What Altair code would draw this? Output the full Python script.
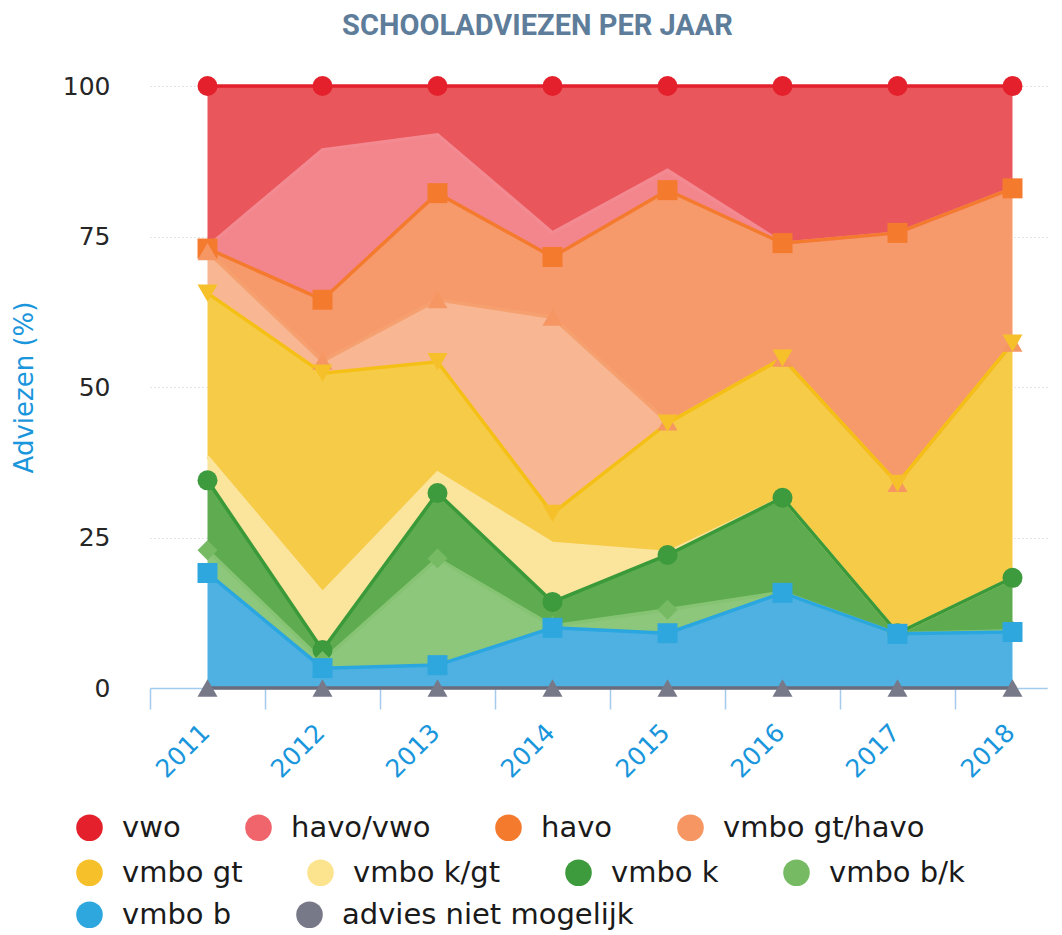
import altair as alt
import pandas as pd

years = [2011, 2012, 2013, 2014, 2015, 2016, 2017, 2018]
series = ["vwo", "havo/vwo", "havo", "vmbo gt/havo", "vmbo gt",
          "vmbo k/gt", "vmbo k", "vmbo b/k", "vmbo b", "advies niet mogelijk"]

# percentage per advice per year
vwo = [26.7, 10.6, 8.1, 24.4, 14.0, 26.1, 24.4, 17.0]
havo_vwo = [0.3, 24.9, 9.7, 4.0, 3.3, 0.0, 0.0, 0.0]
havo = [0.5, 10.2, 17.7, 10.0, 38.5, 19.1, 41.6, 25.7]
vmbo_gt_havo = [6.9, 2.0, 10.3, 32.6, 0.2, 0.0, 0.0, 0.0]
vmbo_gt = [27.2, 36.5, 18.5, 5.0, 21.5, 23.2, 24.9, 39.0]
vmbo_k_gt = [3.9, 9.5, 3.3, 9.7, 0.4, 0.0, 0.0, 0.0]
vmbo_k = [11.6, 1.8, 10.9, 4.0, 9.1, 15.7, 0.1, 8.8]
vmbo_b_k = [3.8, 1.2, 17.7, 0.3, 3.9, 0.1, 0.0, 0.2]
vmbo_b = [19.1, 3.3, 3.8, 10.0, 9.1, 15.8, 9.0, 9.3]
advies = [0.0, 0.0, 0.0, 0.0, 0.0, 0.0, 0.0, 0.0]

y_ticks = [0, 25, 50, 75, 100]
band_edges = [2010.5, 2011.5, 2012.5, 2013.5, 2014.5, 2015.5, 2016.5, 2017.5]

marker_colors = ["#e3202b", "#f0646c", "#f47a2e", "#f59663", "#f5c02a",
                 "#fce48e", "#3d9a3d", "#76bb64", "#2ea7df", "#777989"]
area_colors = ["#e9565c", "#f3868c", "#f69a6b", "#f8b692", "#f6cb48",
               "#fbe49c", "#5fab4f", "#8cc77b", "#4fb1e1", "#8a8c9a"]
line_colors = ["#e3202b", "#f38a91", "#f47a2e", "#f6a070", "#f5c015",
               "#fbe49c", "#3a9a3a", "#86c474", "#2aa6e0", "#6a6c7c"]
shapes = ["circle", "diamond", "square", "triangle-up", "triangle-down",
          "diamond", "circle", "diamond", "square", "triangle-up"]
no_marker = ["havo/vwo", "vmbo k/gt"]

# legend rows (as in the reference)
legend_rows = [series[0:4], series[4:8], series[8:10]]
legend_y = [727, 772, 814]

values = [vwo, havo_vwo, havo, vmbo_gt_havo, vmbo_gt,
          vmbo_k_gt, vmbo_k, vmbo_b_k, vmbo_b, advies]
rows = []
for i, (name, vals) in enumerate(zip(series, values)):
    for y, v in zip(years, vals):
        rows.append({"year": y, "series": name, "value": v,
                     "order": len(series) - 1 - i})
df = pd.DataFrame(rows)

rev_series = series[::-1]

x_scale = alt.Scale(domain=[2010.5, 2018.3], nice=False, zero=False)
y_scale = alt.Scale(domain=[0, 100], nice=False)

base = alt.Chart(df).transform_stack(
    stack="value", groupby=["year"], as_=["y0", "y1"],
    sort=[alt.SortField(field="order", order="ascending")]
)

x_axis = alt.Axis(
    values=band_edges, labelExpr="'' + (datum.value + 0.5)", labelOffset=55,
    grid=False, domainColor="#a4cbec", domainWidth=1.5,
    tickColor="#a4cbec", tickWidth=1.5, tickSize=21,
    labelAngle=315, labelAlign="right", labelBaseline="middle",
    labelPadding=19, labelFont="DejaVu Sans", labelFontSize=25,
    labelColor="#1a96dc", labelFlush=False, labelOverlap=False,
    title=None,
)
y_axis = alt.Axis(
    values=y_ticks, grid=True, gridDash=[1, 3], gridColor="#c8c8c8",
    domain=False, ticks=False, labelFont="DejaVu Sans", labelFontSize=25,
    labelColor="#262626", labelPadding=40, title="Adviezen (%)",
    titleFont="DejaVu Sans", titleFontSize=26, titleFontWeight="normal",
    titleColor="#1a96dc", titlePadding=25,
)

areas = base.mark_area(opacity=1).encode(
    x=alt.X("year:Q", scale=x_scale, axis=x_axis),
    y=alt.Y("y1:Q", scale=y_scale, axis=y_axis, stack=None),
    y2="y0:Q",
    fill=alt.Fill("series:N", scale=alt.Scale(domain=rev_series, range=area_colors[::-1]), legend=None),
    order=alt.Order("order:Q"),
)

lines = base.mark_line(strokeWidth=3.5).encode(
    x=alt.X("year:Q"),
    y=alt.Y("y1:Q", stack=None),
    stroke=alt.Stroke("series:N", scale=alt.Scale(domain=rev_series, range=line_colors[::-1]), legend=None),
    detail="series:N",
)

marker_layers = []
for row, ly in zip(legend_rows, legend_y):
    shown = [s for s in row if s not in no_marker]
    row_colors = [marker_colors[series.index(s)] for s in row]
    layer = base.transform_filter(
        alt.FieldOneOfPredicate(field="series", oneOf=shown)
    ).mark_point(filled=True, opacity=1, size=400).encode(
        x=alt.X("year:Q"),
        y=alt.Y("y1:Q", stack=None),
        color=alt.Color(
            "series:N",
            scale=alt.Scale(domain=row, range=row_colors),
            legend=alt.Legend(
                title=None, orient="none", legendX=-75, legendY=ly,
                direction="horizontal", columns=len(row),
                symbolType="circle", symbolSize=707, symbolStrokeWidth=0,
                labelFont="DejaVu Sans", labelFontSize=29, labelColor="#1a1a1a",
                labelOffset=18, columnPadding=63, padding=0, labelLimit=500,
            ),
        ),
        shape=alt.Shape("series:N", scale=alt.Scale(domain=rev_series, range=shapes[::-1]), legend=None),
    )
    marker_layers.append(layer)

chart = alt.layer(areas, lines, *marker_layers).resolve_scale(
    color="independent"
).resolve_legend(color="independent").properties(
    width=897, height=602,
    autosize=alt.AutoSizeParams(type="none"),
    padding={"left": 142, "top": 78, "right": 7, "bottom": 247},
    background="white",
    title=alt.TitleParams(
        "SCHOOLADVIEZEN PER JAAR", font="Roboto", fontSize=29,
        fontWeight="bold", color="#5e7d9a", anchor="middle", dx=-61, offset=33,
    ),
).configure_view(stroke=None)

chart.save("out.html", embed_options={"renderer": "svg", "actions": False})
